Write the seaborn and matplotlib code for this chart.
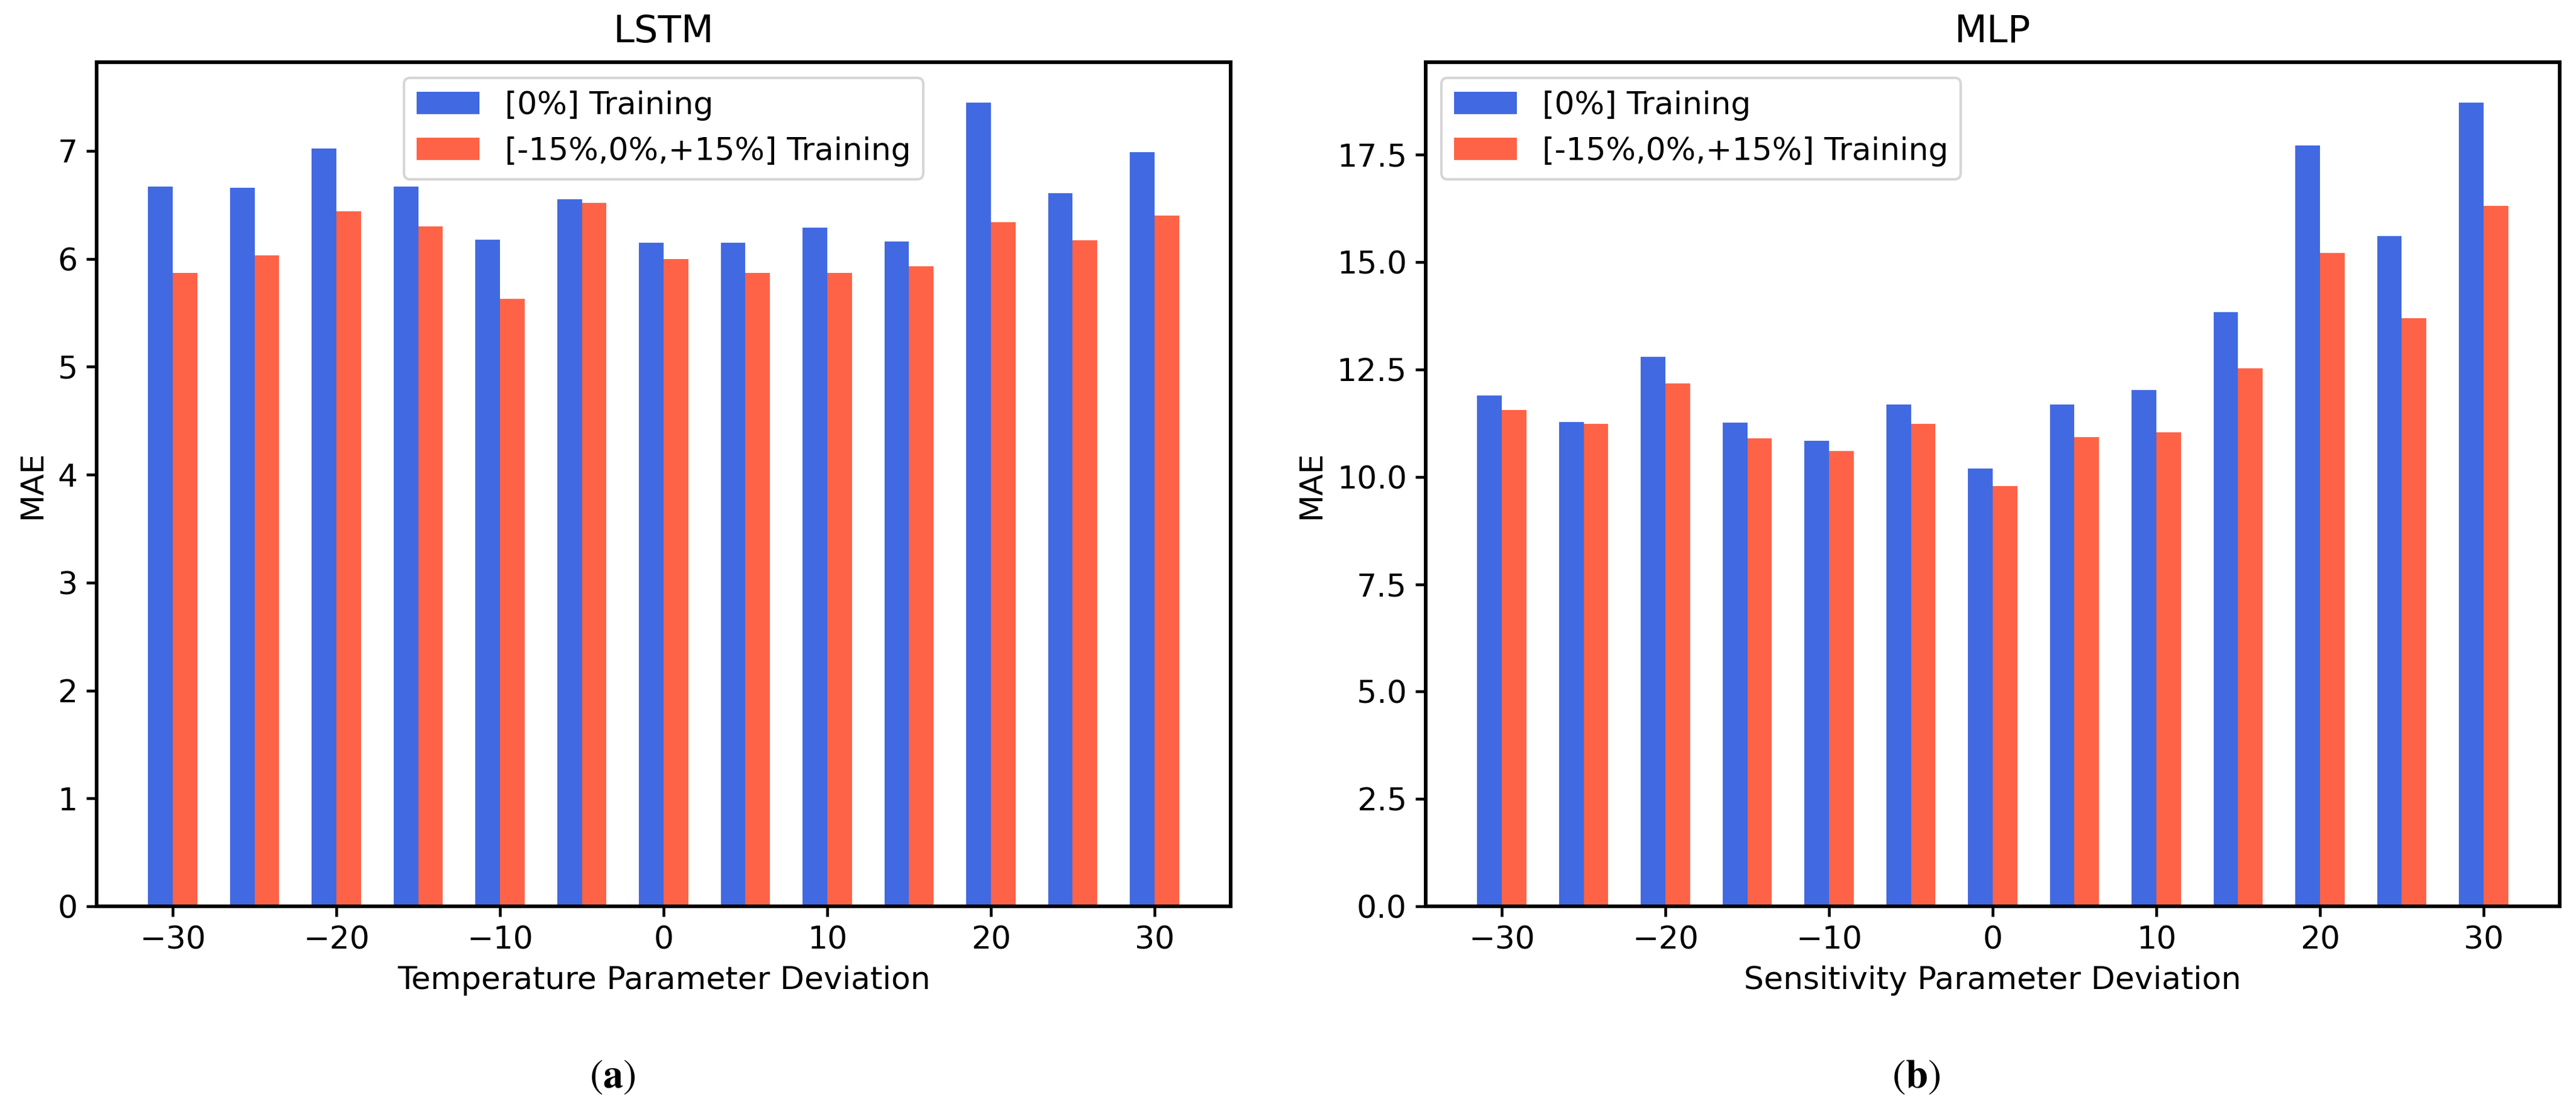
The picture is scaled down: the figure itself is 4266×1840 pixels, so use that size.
import numpy as np
import pandas as pd
import matplotlib
matplotlib.use("Agg")
import matplotlib.pyplot as plt
import seaborn as sns

# ---- data ----
deviations = [-30, -25, -20, -15, -10, -5, 0, 5, 10, 15, 20, 25, 30]
series_names = ["[0%] Training", "[-15%,0%,+15%] Training"]

lstm_base = [6.67, 6.66, 7.02, 6.67, 6.18, 6.55, 6.15, 6.15, 6.29, 6.16, 7.45, 6.61, 6.99]
lstm_aug = [5.87, 6.03, 6.44, 6.30, 5.63, 6.52, 6.00, 5.87, 5.87, 5.93, 6.34, 6.17, 6.40]

mlp_base = [11.89, 11.27, 12.80, 11.26, 10.84, 11.69, 10.20, 11.69, 12.02, 13.83, 17.71, 15.60, 18.72]
mlp_aug = [11.56, 11.24, 12.17, 10.90, 10.60, 11.24, 9.78, 10.93, 11.04, 12.53, 15.22, 13.69, 16.31]

titles = ["LSTM", "MLP"]
xlabels = ["Temperature Parameter Deviation", "Sensitivity Parameter Deviation"]
ylabel = "MAE"
captions = ["a", "b"]
colors = ["#4169E1", "#FF6347"]


def long_frame(base, aug):
    return pd.DataFrame({
        "dev": deviations * 2,
        "MAE": list(base) + list(aug),
        "series": [series_names[0]] * len(base) + [series_names[1]] * len(aug),
    })


sns.set_theme(style="ticks")
plt.rcParams.update({
    "font.family": ["DejaVu Sans"],
    "font.size": 12.5,
    "axes.titlesize": 15,
    "axes.labelsize": 12.5,
    "xtick.labelsize": 12.5,
    "ytick.labelsize": 12.5,
    "legend.fontsize": 12.5,
    "axes.linewidth": 1.45,
    "axes.edgecolor": "black",
    "xtick.major.size": 4,
    "ytick.major.size": 4,
    "xtick.major.width": 1.1,
    "ytick.major.width": 1.1,
    "xtick.color": "black",
    "ytick.color": "black",
    "axes.labelcolor": "black",
    "text.color": "black",
    "legend.edgecolor": "0.8",
    "legend.framealpha": 0.8,
    "legend.fancybox": True,
})

W, H = 4266, 1840
dpi = 300
fig = plt.figure(figsize=(W / dpi, H / dpi), dpi=dpi)

axes_px = [(160, 2038), (2361, 4239)]
top_px, bottom_px = 103, 1501

frames = [long_frame(lstm_base, lstm_aug), long_frame(mlp_base, mlp_aug)]
legend_locs = ["upper center", "upper left"]
caption_x = [1014 / W, 3173 / W]

for i, df in enumerate(frames):
    l, r = axes_px[i]
    ax = fig.add_axes([l / W, 1 - bottom_px / H, (r - l) / W, (bottom_px - top_px) / H])
    sns.barplot(data=df, x="dev", y="MAE", hue="series", hue_order=series_names,
                palette=colors, native_scale=True, width=0.6, errorbar=None,
                saturation=1, ax=ax, linewidth=0)
    lo = min(deviations) - 1.5
    hi = max(deviations) + 1.5
    pad = 0.05 * (hi - lo)
    ax.set_xlim(lo - pad, hi + pad)
    ymax = df["MAE"].max()
    ax.set_ylim(0, ymax * 1.05)
    ax.set_xticks([-30, -20, -10, 0, 10, 20, 30])
    ax.set_title(titles[i], pad=8)
    ax.set_xlabel(xlabels[i])
    ax.set_ylabel(ylabel)
    for s in ax.spines.values():
        s.set_visible(True)
    ax.legend(loc=legend_locs[i], title=None, handlelength=2.0, borderpad=0.4)
    fig.text(caption_x[i], 1 - 1782 / H, r"$(\mathbf{" + captions[i] + r"})$",
             ha="center", va="center", fontsize=16, math_fontfamily="stix")

fig.savefig("out.png", dpi=dpi)
